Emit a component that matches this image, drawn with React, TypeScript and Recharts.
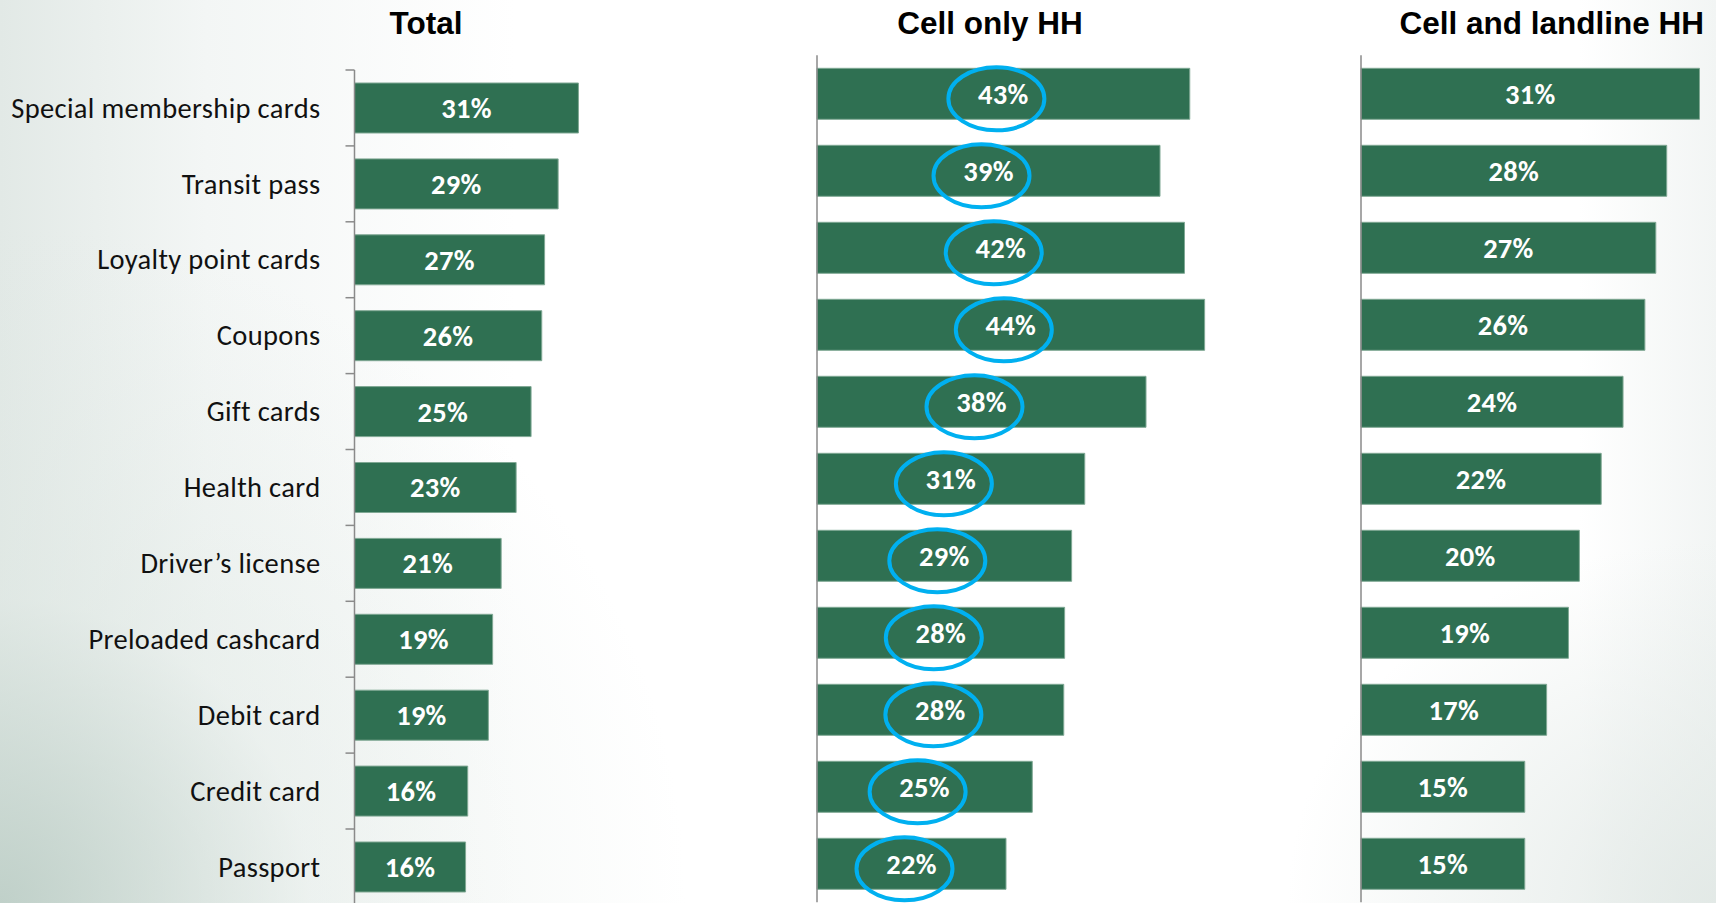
import React from 'react';
import { BarChart, Bar, XAxis, YAxis, LabelList, ReferenceLine } from 'recharts';

const categories = [
  'Special membership cards',
  'Transit pass',
  'Loyalty point cards',
  'Coupons',
  'Gift cards',
  'Health card',
  'Driver\u2019s license',
  'Preloaded cashcard',
  'Debit card',
  'Credit card',
  'Passport',
];
const totalValues = [31.45, 28.6, 26.7, 26.3, 24.8, 22.7, 20.6, 19.4, 18.8, 15.9, 15.6];
const cellOnlyValues = [42.6, 39.2, 42.0, 44.3, 37.6, 30.6, 29.1, 28.3, 28.2, 24.6, 21.6];
const cellLandlineValues = [31, 28, 27, 26, 24, 22, 20, 19, 17, 15, 15];
const panelTitles = ['Total', 'Cell only HH', 'Cell and landline HH'];

const totalData = categories.map((name, i) => ({ name, value: totalValues[i] }));
const cellOnlyData = categories.map((name, i) => ({ name, value: cellOnlyValues[i] }));
const cellLandlineData = categories.map((name, i) => ({ name, value: cellLandlineValues[i] }));

const W = 1716;
const H = 903;
const CH = 915;
const BAR = '#2F7052';
const BAR_EDGE = '#7fa894';
const AXIS = '#8a8a8a';
const RING = '#00B0F0';
const LABEL_FONT = 'Carlito, Calibri, Lato, sans-serif';
const TITLE_FONT = '"Liberation Sans", Arial, sans-serif';

// Total panel layout
const T_LEFT = 354.5;
const T_TOP = 70;
const T_BAND = 75.9;
const T_PLOT_W = 284.8; // domain 0..40
const LABEL_GAP = 34;
const CAT_FS = 28.5;
const CAT_LS = 0.35;
const VAL_FS = 28.5;
const VAL_LS = 0.3;

// Cell panels layout
const C_TOP = 55.3;
const C_BAND = 77;
const C1_LEFT = 816.5;
const C1_PLOT_W = 437.5; // domain 0..50
const C2_LEFT = 1360.5;
const C2_PLOT_W = 349.4; // domain 0..32

const ELLIPSE_DX = -7;
const ELLIPSE_DY = 5;

const fmt = (v: number) => `${Math.round(v)}%`;

function CategoryTick(props: any) {
  const { x, y, payload, index } = props;
  const axisX = x + LABEL_GAP;
  const top = y - T_BAND / 2;
  const bottom = y + T_BAND / 2;
  return (
    <g>
      <line x1={axisX - 9} x2={axisX} y1={top} y2={top} stroke={AXIS} strokeWidth={1.5} />
      {index === categories.length - 1 && (
        <line x1={axisX - 9} x2={axisX} y1={bottom} y2={bottom} stroke={AXIS} strokeWidth={1.5} />
      )}
      <text
        x={x}
        y={y + 0.34 * CAT_FS}
        textAnchor="end"
        fill="#111"
        fontFamily={LABEL_FONT}
        fontSize={CAT_FS}
        letterSpacing={CAT_LS}
      >
        {payload.value}
      </text>
    </g>
  );
}

function ValueText({ cx, cy, value }: { cx: number; cy: number; value: number }) {
  return (
    <text
      x={cx}
      y={cy + 0.35 * VAL_FS}
      textAnchor="middle"
      fill="#ffffff"
      fontFamily={LABEL_FONT}
      fontWeight={700}
      fontSize={VAL_FS}
      letterSpacing={VAL_LS}
    >
      {fmt(value)}
    </text>
  );
}

function ValueLabel(props: any) {
  const { x, y, width, height, value } = props;
  return <ValueText cx={x + width / 2} cy={y + height / 2} value={value} />;
}

function CircledLabel(props: any) {
  const { x, y, width, height, value } = props;
  const cx = x + width / 2;
  const cy = y + height / 2;
  return (
    <g>
      <ValueText cx={cx} cy={cy} value={value} />
      <ellipse
        cx={cx + ELLIPSE_DX}
        cy={cy + ELLIPSE_DY}
        rx={48}
        ry={31.5}
        fill="none"
        stroke={RING}
        strokeWidth={4}
      />
    </g>
  );
}

export default function App() {
  const tW = T_LEFT + T_PLOT_W + 10;
  const c1W = 10 + C1_PLOT_W + 10;
  const c2W = 10 + C2_PLOT_W + 10;
  return (
    <div
      style={{
        position: 'absolute',
        left: 0,
        top: 0,
        width: W,
        height: H,
        overflow: 'hidden',
        background:
          'radial-gradient(ellipse 40% 75% at 0% 100%, rgba(186,204,196,0.85) 0%, rgba(220,230,225,0.4) 45%, rgba(255,255,255,0) 100%), radial-gradient(ellipse 25% 40% at 100% 100%, rgba(225,232,229,0.9) 0%, rgba(255,255,255,0) 100%), linear-gradient(to right, #e2e9e6 0%, #f3f6f5 12%, #ffffff 30%, #ffffff 92%, #f2f5f4 100%)',
      }}
    >
      <div style={{ position: 'absolute', left: 0, top: 0 }}>
        <BarChart
          width={tW}
          height={CH}
          data={totalData}
          layout="vertical"
          margin={{ top: T_TOP, right: 10, bottom: CH - T_TOP - T_BAND * categories.length, left: 0 }}
        >
          <XAxis type="number" domain={[0, 40]} hide />
          <YAxis
            type="category"
            dataKey="name"
            width={T_LEFT}
            interval={0}
            tickSize={0}
            tickMargin={LABEL_GAP}
            tickLine={false}
            axisLine={{ stroke: AXIS, strokeWidth: 1.5 }}
            tick={<CategoryTick />}
          />
          <Bar dataKey="value" fill={BAR} stroke={BAR_EDGE} strokeWidth={1} barSize={50} isAnimationActive={false}>
            <LabelList dataKey="value" content={<ValueLabel />} />
          </Bar>
        </BarChart>
      </div>

      <div style={{ position: 'absolute', left: C1_LEFT - 10, top: 0 }}>
        <BarChart
          width={c1W}
          height={CH}
          data={cellOnlyData}
          layout="vertical"
          margin={{ top: C_TOP, right: 10, bottom: CH - C_TOP - C_BAND * categories.length, left: 10 }}
        >
          <XAxis type="number" domain={[0, 50]} hide />
          <YAxis type="category" dataKey="name" hide />
          <Bar dataKey="value" fill={BAR} stroke={BAR_EDGE} strokeWidth={1} barSize={51} isAnimationActive={false}>
            <LabelList dataKey="value" content={<CircledLabel />} />
          </Bar>
          <ReferenceLine x={0} stroke={AXIS} strokeWidth={1.5} />
        </BarChart>
      </div>

      <div style={{ position: 'absolute', left: C2_LEFT - 10, top: 0 }}>
        <BarChart
          width={c2W}
          height={CH}
          data={cellLandlineData}
          layout="vertical"
          margin={{ top: C_TOP, right: 10, bottom: CH - C_TOP - C_BAND * categories.length, left: 10 }}
        >
          <XAxis type="number" domain={[0, 32]} hide />
          <YAxis type="category" dataKey="name" hide />
          <Bar dataKey="value" fill={BAR} stroke={BAR_EDGE} strokeWidth={1} barSize={51} isAnimationActive={false}>
            <LabelList dataKey="value" content={<ValueLabel />} />
          </Bar>
          <ReferenceLine x={0} stroke={AXIS} strokeWidth={1.5} />
        </BarChart>
      </div>

      <svg
        width={W}
        height={60}
        style={{ position: 'absolute', left: 0, top: 0, pointerEvents: 'none' }}
      >
        {[426, 990, 1551.7].map((cx, i) => (
          <text
            key={panelTitles[i]}
            x={cx}
            y={34}
            textAnchor="middle"
            fontFamily={TITLE_FONT}
            fontWeight={700}
            fontSize={31.5}
            fill="#000"
          >
            {panelTitles[i]}
          </text>
        ))}
      </svg>
    </div>
  );
}
